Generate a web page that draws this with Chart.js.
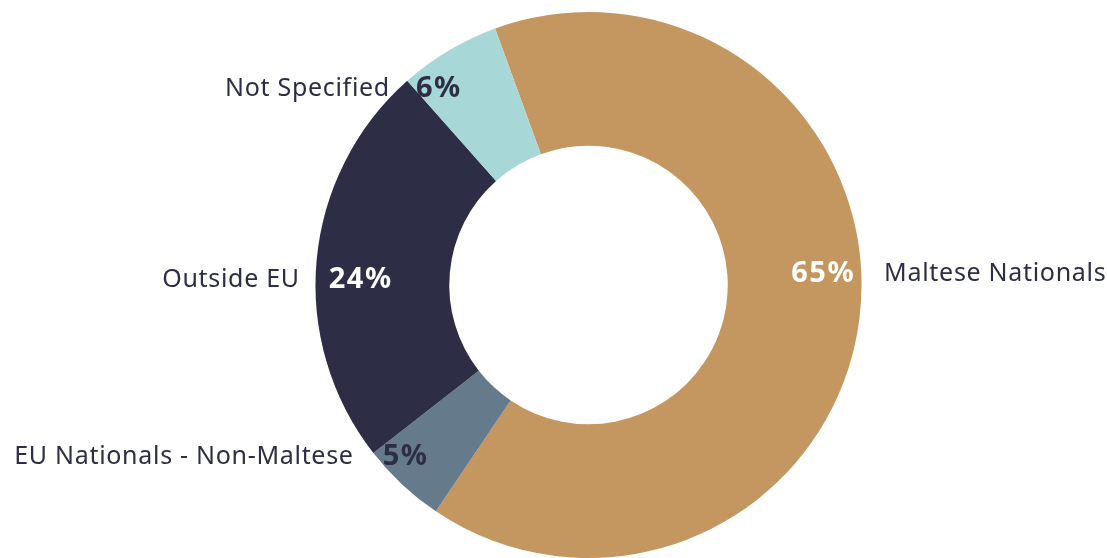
<!DOCTYPE html>
<html>
<head>
<meta charset="utf-8">
<script src="https://cdn.jsdelivr.net/npm/chart.js@4.4.1/dist/chart.umd.min.js"></script>
<style>
  html, body { margin: 0; padding: 0; background: #ffffff; }
  #wrap { width: 1107px; height: 558px; position: relative; }
</style>
</head>
<body>
<div id="wrap"><canvas id="nationalityChart"></canvas></div>
<script>
// Nacionalidades - fatias do donut
const categories = ["Maltese Nationals", "EU Nationals - Non-Maltese", "Outside EU", "Not Specified"];
const shares = [65, 5, 24, 6];

const sliceColors = ["#c49660", "#657b8c", "#2d2d45", "#a8d7d7"];
const pctColors = ["#ffffff", "#2d2d45", "#ffffff", "#2d2d45"];

// Onde cada rótulo fica: ângulo (graus, sentido horário a partir do topo) e raio relativo ao raio externo
const labelAngles = [86.8, 227.1, 271.8, 322.9];
const labelRadii = [0.861, 0.915, 0.835, 0.909];

const FONT = "'Noto Sans', sans-serif";

// Desenha a porcentagem dentro do anel e o nome da categoria ao lado
const ringLabels = {
  id: "ringLabels",
  afterDatasetsDraw(chart) {
    const ctx = chart.ctx;
    const meta = chart.getDatasetMeta(0);
    meta.data.forEach((arc, i) => {
      const { x, y, outerRadius } = arc.getProps(["x", "y", "outerRadius"], true);
      const a = labelAngles[i] * Math.PI / 180;
      const r = outerRadius * labelRadii[i];
      const cx = x + Math.sin(a) * r;
      const cy = y - Math.cos(a) * r;

      ctx.save();
      ctx.textBaseline = "alphabetic";

      // porcentagem
      ctx.font = "700 29px " + FONT;
      ctx.letterSpacing = "1.5px";
      const pct = shares[i] + "%";
      const pw = ctx.measureText(pct).width;
      ctx.fillStyle = pctColors[i];
      ctx.textAlign = "left";
      ctx.fillText(pct, cx - pw / 2, cy + 29 * 0.714 / 2);

      // nome
      ctx.font = "400 25px " + FONT;
      ctx.letterSpacing = "0.7px";
      ctx.fillStyle = "#2d2d45";
      const gap = i === 3 ? 26 : 29;
      const right = Math.sin(a) > 0;
      const nw = ctx.measureText(categories[i]).width;
      const nx = right ? cx + pw / 2 + gap : cx - pw / 2 - gap - nw;
      ctx.textAlign = "left";
      ctx.fillText(categories[i], nx, cy + 25 * 0.714 / 2);
      ctx.restore();
    });
  }
};

new Chart(document.getElementById("nationalityChart"), {
  type: "doughnut",
  data: {
    labels: categories,
    datasets: [{
      data: shares,
      backgroundColor: sliceColors,
      borderWidth: 0
    }]
  },
  options: {
    responsive: true,
    maintainAspectRatio: false,
    animation: false,
    rotation: -20,
    cutout: "51%",
    layout: { padding: { left: 70, top: 12, right: 0, bottom: 0 } },
    plugins: {
      legend: { display: false },
      tooltip: { enabled: false }
    }
  },
  plugins: [ringLabels]
});
</script>
</body>
</html>
